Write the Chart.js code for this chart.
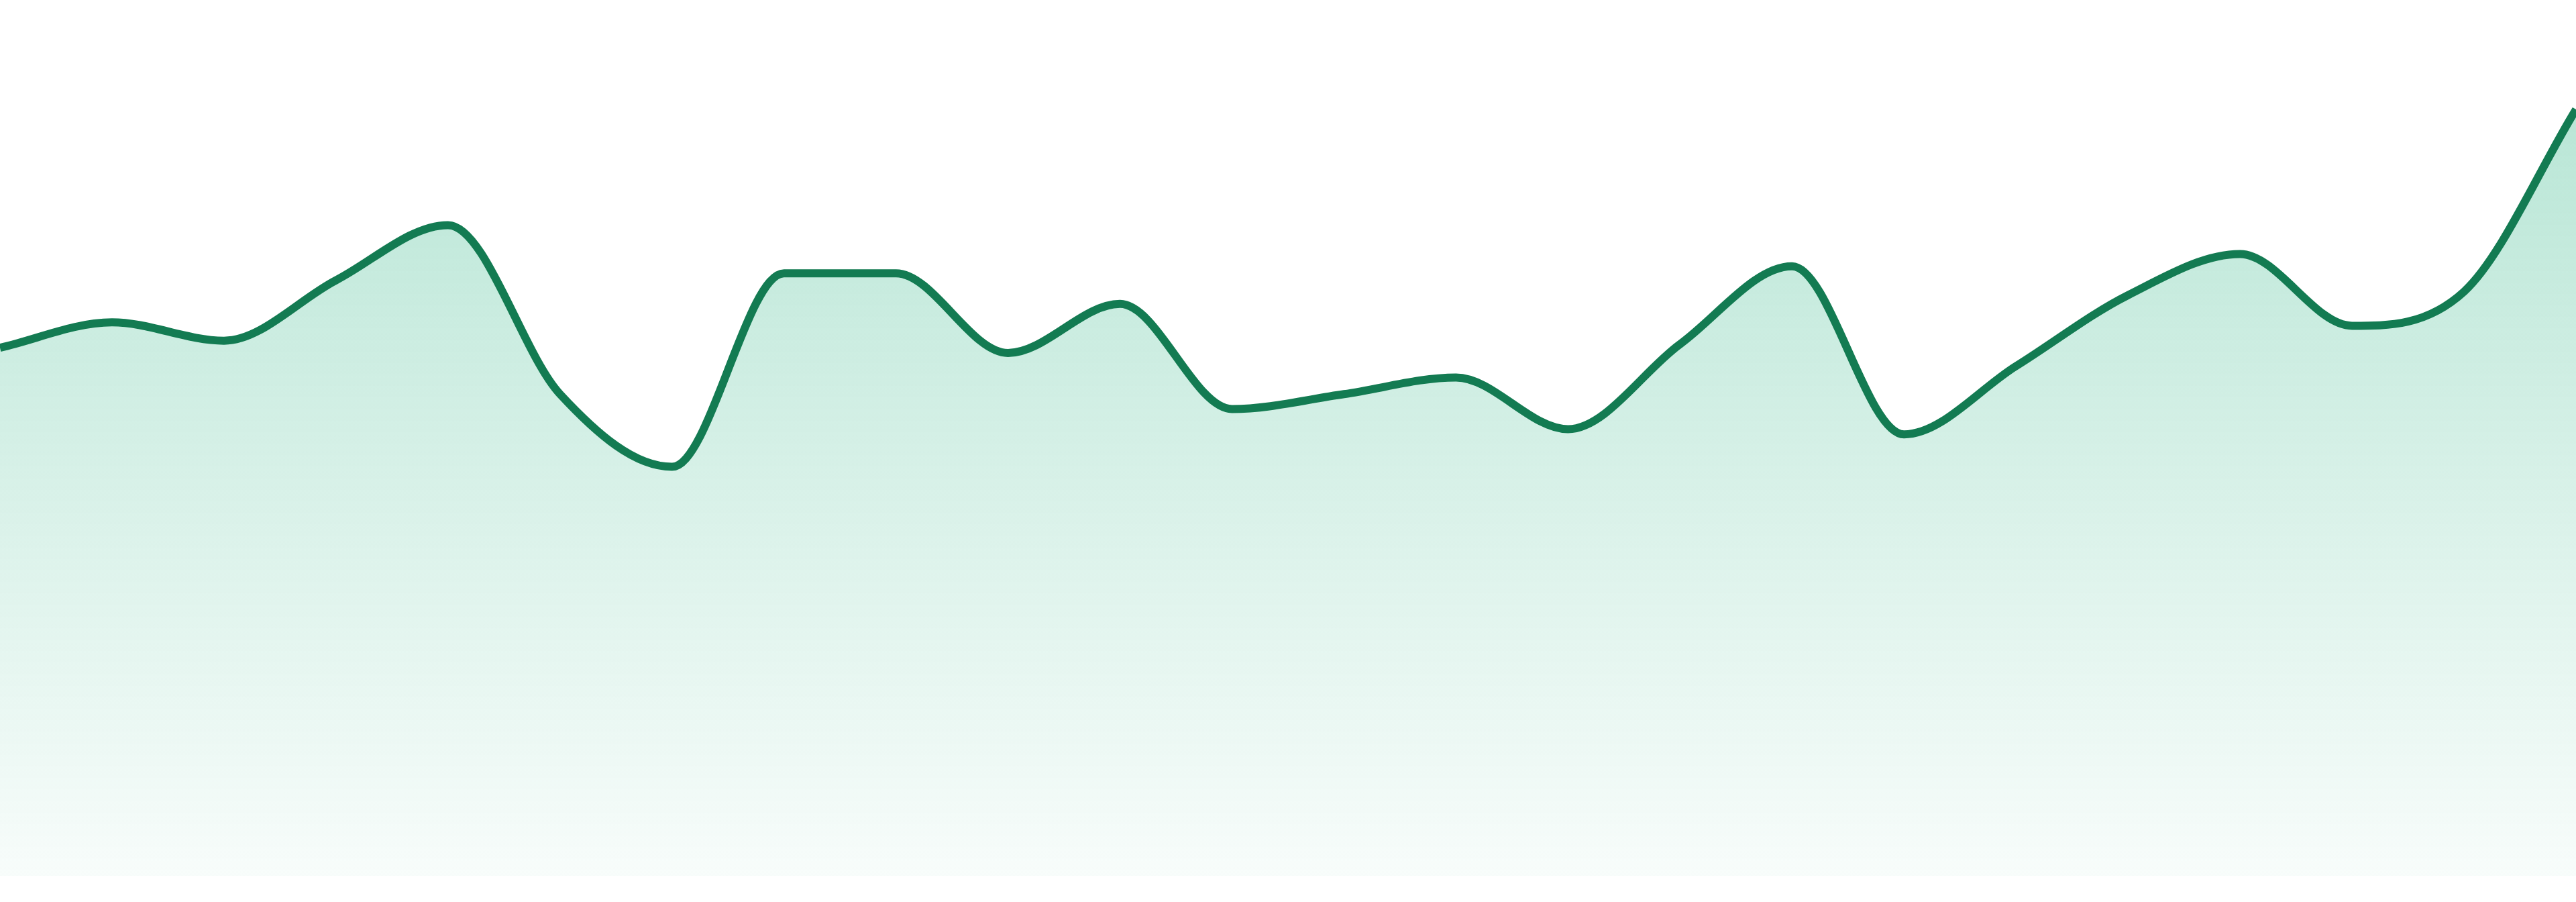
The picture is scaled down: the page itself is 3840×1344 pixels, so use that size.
<!DOCTYPE html>
<html>
<head>
<meta charset="utf-8">
<script src="https://cdn.jsdelivr.net/npm/chart.js@4"></script>
<style>
  html, body { margin: 0; padding: 0; background: #fff; }
  #wrap { width: 3840px; height: 1344px; }
</style>
</head>
<body>
<div id="wrap"><canvas id="area"></canvas></div>
<script>
const labels = [
  'W1', 'W2', 'W3', 'W4', 'W5', 'W6', 'W7', 'W8',
  'W9', 'W10', 'W11', 'W12', 'W13', 'W14', 'W15', 'W16',
  'W17', 'W18', 'W19', 'W20', 'W21', 'W22', 'W23', 'W24'
];
const values = [
  60.3, 63.2, 61.1, 68.0, 74.3, 55.0, 46.7, 68.8,
  68.8, 59.7, 65.3, 53.3, 55.0, 56.9, 51.0, 60.7,
  69.6, 50.4, 58.2, 66.3, 71.0, 62.8, 66.7, 87.5
];
const yMin = 0;
const yMax = 100;

const lineColor = '#137b52';

// vertical fade under the line
function fillGradient(context) {
  const area = context.chart.chartArea;
  if (!area) return 'rgba(16,170,115,0.2)';
  const g = context.chart.ctx.createLinearGradient(0, area.top, 0, area.bottom);
  g.addColorStop(0, 'rgba(16,170,115,0.33)');
  g.addColorStop(1, 'rgba(16,170,115,0.03)');
  return g;
}

new Chart(document.getElementById('area'), {
  type: 'line',
  data: {
    labels: labels,
    datasets: [{
      data: values,
      fill: 'origin',
      borderColor: lineColor,
      borderWidth: 12,
      backgroundColor: fillGradient,
      pointRadius: 0,
      cubicInterpolationMode: 'monotone'
    }]
  },
  options: {
    responsive: true,
    maintainAspectRatio: false,
    devicePixelRatio: 1,
    animation: false,
    layout: { padding: { top: 0, bottom: 39, left: 0, right: 0 } },
    plugins: { legend: { display: false }, tooltip: { enabled: false } },
    scales: {
      x: { display: false, offset: false },
      y: { display: false, min: yMin, max: yMax }
    }
  }
});
</script>
</body>
</html>
